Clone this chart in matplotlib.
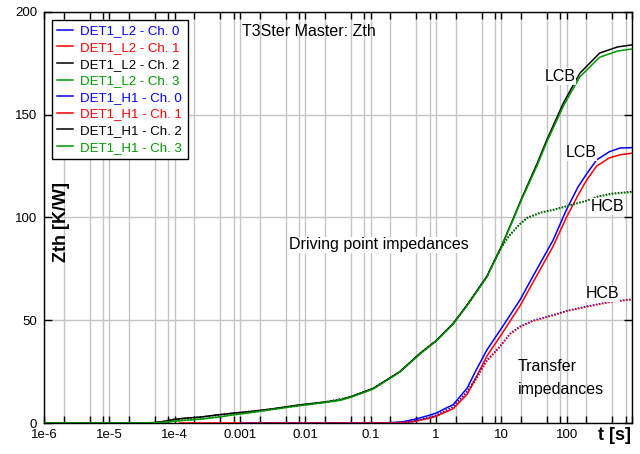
import matplotlib
matplotlib.use("Agg")
import matplotlib.pyplot as plt
from matplotlib.ticker import FixedLocator, LogLocator, NullFormatter
from matplotlib.lines import Line2D

plt.rcParams['font.family'] = ['Liberation Sans', 'DejaVu Sans']

# ---------------- data ----------------
# Driving point impedance, LCB (solid)  -> DET1_L2 Ch.2 (black), Ch.3 (green)
t_l2_ch2 = [1e-6, 3e-5, 5e-5, 7e-5, 1e-4, 1.5e-4, 2.5e-4, 5e-4, 8e-4, 1.5e-3, 3e-3, 8e-3,
            0.02, 0.034, 0.05, 0.11, 0.28, 0.57, 1.0, 1.84, 3.0, 6.0, 10, 15, 20, 35,
            50, 90, 160, 320, 600, 1000]
z_l2_ch2 = [0, 0, 0.2, 0.8, 1.8, 2.4, 2.9, 4.1, 4.8, 5.6, 6.8, 8.8,
            10.2, 11.2, 12.8, 16.9, 25, 33.9, 40, 48.5, 57.5, 71.3, 85.9, 99, 108.6, 126,
            138, 156, 170.3, 180, 183, 184]
t_l2_ch3 = [1e-6, 3e-5, 5e-5, 7e-5, 1e-4, 1.5e-4, 2.5e-4, 5e-4, 8e-4, 1.5e-3, 3e-3, 8e-3,
            0.02, 0.034, 0.05, 0.11, 0.28, 0.57, 1.0, 1.84, 3.0, 6.0, 10, 15, 20, 35,
            50, 90, 160, 320, 600, 1000]
z_l2_ch3 = [0, 0, 0.1, 0.4, 0.9, 1.4, 1.9, 3.0, 4.0, 5.1, 6.5, 8.5,
            10.0, 11.0, 12.6, 16.6, 24.8, 33.6, 39.8, 48.3, 57.2, 71.0, 85.6, 98.5, 108, 125,
            137, 154.5, 168.5, 178, 181, 182]

# Transfer impedance, LCB (solid) -> DET1_L2 Ch.0 (blue), Ch.1 (red)
t_l2_ch0 = [1e-3, 0.15, 0.3, 0.5, 0.8, 1.0, 1.84, 3.0, 4.0, 6.0, 10, 19.3, 30, 62, 99,
            150, 200, 287, 450, 653, 1000]
z_l2_ch0 = [0, 0, 0.5, 2.0, 3.8, 4.8, 9.0, 17, 25, 35.5, 46, 59.9, 71, 89, 103.7,
            115, 121, 128, 132, 133.8, 134]
t_l2_ch1 = [1.2e-4, 0.15, 0.3, 0.5, 0.8, 1.0, 1.84, 3.0, 4.0, 6.0, 10, 19.3, 30, 62, 99,
            150, 200, 287, 450, 653, 1000]
z_l2_ch1 = [0, 0, 0.2, 1.0, 2.5, 3.3, 7.0, 14, 21.5, 32.5, 43, 57, 68, 86, 100,
            111, 118, 125, 129, 130.5, 131.3]

# Transfer impedance, HCB (dotted) -> DET1_H1 Ch.0 (blue), Ch.1 (red)
t_h1_ch0 = [1e-3, 0.2, 0.4, 0.8, 1.0, 1.84, 3.0, 4.0, 6.0, 8.0, 10, 13.7, 19.3, 30, 62,
            100, 202, 500, 1000]
z_h1_ch0 = [0, 0, 0.5, 2.8, 3.8, 8.0, 15.5, 21.5, 30.7, 34.8, 38.2, 43.7, 47, 49.8, 52.6,
            54.6, 56.8, 59.2, 60.2]
t_h1_ch1 = [1.2e-4, 0.2, 0.4, 0.8, 1.0, 1.84, 3.0, 4.0, 6.0, 8.0, 10, 13.7, 19.3, 30, 62,
            100, 202, 500, 1000]
z_h1_ch1 = [0, 0, 0.3, 2.2, 3.2, 7.2, 14.5, 20.5, 30.0, 34.3, 37.8, 43.3, 46.6, 49.5, 52.3,
            54.4, 56.5, 59.0, 60.0]

# Driving point impedance, HCB (dotted) -> DET1_H1 Ch.2 (black), Ch.3 (green)
t_h1_ch2 = [1e-6, 3e-5, 5e-5, 1e-4, 2.5e-4, 8e-4, 3e-3, 0.02, 0.05, 0.11, 0.28, 0.57, 1.0,
            1.84, 3.0, 6.0, 8.0, 10, 13, 19.3, 25, 40, 62, 100, 200, 300, 500, 1000]
z_h1_ch2 = [0, 0, 0.2, 1.8, 2.9, 4.8, 6.8, 10.2, 12.8, 16.9, 25, 33.9, 40,
            48.5, 57.5, 71.3, 79.5, 85.5, 91, 97, 100, 102.5, 103.8, 105.6, 108.2, 110.3, 111.7, 112.6]
t_h1_ch3 = [1e-6, 3e-5, 5e-5, 1e-4, 2.5e-4, 8e-4, 3e-3, 0.02, 0.05, 0.11, 0.28, 0.57, 1.0,
            1.84, 3.0, 6.0, 8.0, 10, 13, 19.3, 25, 40, 62, 100, 200, 300, 500, 1000]
z_h1_ch3 = [0, 0, 0.1, 0.9, 1.9, 4.0, 6.5, 10.0, 12.6, 16.6, 24.8, 33.6, 39.8,
            48.3, 57.2, 71.0, 79.2, 85.2, 90.6, 96.6, 99.6, 102.2, 103.5, 105.3, 108, 110, 111.4, 112.3]

series_labels = ["DET1_L2 - Ch. 0", "DET1_L2 - Ch. 1", "DET1_L2 - Ch. 2", "DET1_L2 - Ch. 3",
                 "DET1_H1 - Ch. 0", "DET1_H1 - Ch. 1", "DET1_H1 - Ch. 2", "DET1_H1 - Ch. 3"]

x_major = [1e-6, 1e-5, 1e-4, 1e-3, 1e-2, 1e-1, 1, 10, 100]
x_major_labels = ["1e-6", "1e-5", "1e-4", "0.001", "0.01", "0.1", "1", "10", "100"]
y_ticks = [0, 50, 100, 150, 200]

# ---------------- figure ----------------
W, H = 640, 454
fig = plt.figure(figsize=(W / 100, H / 100), dpi=100)
ax = fig.add_axes([44 / W, 31 / H, 588 / W, 411 / H])

BLUE, RED, BLACK, GREEN = "#0000ff", "#ff0000", "#000000", "#009900"
colors = [BLUE, RED, BLACK, GREEN, BLUE, RED, BLACK, GREEN]
data = [(t_l2_ch0, z_l2_ch0), (t_l2_ch1, z_l2_ch1), (t_l2_ch2, z_l2_ch2), (t_l2_ch3, z_l2_ch3),
        (t_h1_ch0, z_h1_ch0), (t_h1_ch1, z_h1_ch1), (t_h1_ch2, z_h1_ch2), (t_h1_ch3, z_h1_ch3)]

for i, ((t, z), c) in enumerate(zip(data, colors)):
    ls = "-" if i < 4 else (0, (1, 1))
    ax.plot(t, z, color=c, lw=1.1, ls=ls, zorder=3 + i * 0.1)

ax.set_xscale("log")
ax.set_xlim(1e-6, 1e3)
ax.set_ylim(0, 200)

ax.xaxis.set_major_locator(FixedLocator(x_major + [1000]))
ax.set_xticklabels(x_major_labels + [""])
ax.xaxis.set_minor_locator(LogLocator(base=10, subs=[2, 5, 8], numticks=30))
ax.xaxis.set_minor_formatter(NullFormatter())
ax.set_yticks(y_ticks)

ax.tick_params(axis="x", which="both", direction="in", length=5, width=1, top=True,
               labelsize=9.5, pad=4.5, color="black")
ax.tick_params(axis="y", which="both", direction="in", length=6, width=1, right=True,
               labelsize=9.5, pad=5)

ax.grid(True, which="both", axis="x", color="#c4c4c4", lw=1.0, zorder=0)
ax.grid(True, which="major", axis="y", color="#c4c4c4", lw=1.0, zorder=0)
ax.set_axisbelow(True)
for s in ax.spines.values():
    s.set_linewidth(1.0)
    s.set_color("black")

# legend (solid handles)
handles = [Line2D([], [], color=c, lw=1.1) for c in colors]
leg = ax.legend(handles, series_labels, loc="upper left",
                bbox_to_anchor=(8 / 588, 1 - 8 / 411), borderaxespad=0,
                fontsize=9.5, handlelength=1.2, handletextpad=0.55,
                labelspacing=0.33, borderpad=0.4, fancybox=False,
                framealpha=1, edgecolor="black", labelcolor="linecolor")
leg.get_frame().set_linewidth(1.0)
leg.set_zorder(10)

# texts
ax.text((242 - 44) / 588, (423 - 32) / 411, "T3Ster Master: Zth", transform=ax.transAxes,
        ha="left", va="center", fontsize=11.5)
ax.text((61 - 44) / 588, (423 - 222) / 411, "Zth [K/W]", transform=ax.transAxes,
        rotation=90, ha="center", va="center", fontsize=13, fontweight="bold")
fig.text(614 / W, (H - 435) / H, "t [s]", ha="center", va="center",
         fontsize=13, fontweight="bold")

bb = dict(facecolor="white", edgecolor="none", pad=0.5)
ax.text(78.9, 168.6, "LCB", ha="center", va="center", fontsize=11.5, bbox=bb, zorder=5)
ax.text(165.6, 131.5, "LCB", ha="center", va="center", fontsize=11.5, bbox=bb, zorder=5)
ax.text(428, 105.3, "HCB", ha="center", va="center", fontsize=11.5, bbox=bb, zorder=5)
ax.text(359, 62.8, "HCB", ha="center", va="center", fontsize=11.5, bbox=bb, zorder=5)
ax.text(3.19, 86.7, "Driving point impedances", ha="right", va="center", fontsize=11.5,
        bbox=bb, zorder=5)
ax.text(17.9, 27.4, "Transfer", ha="left", va="center", fontsize=11.5, zorder=5)
ax.text(17.9, 16.1, "impedances", ha="left", va="center", fontsize=11.5, zorder=5)

fig.savefig("out.png", dpi=100)
